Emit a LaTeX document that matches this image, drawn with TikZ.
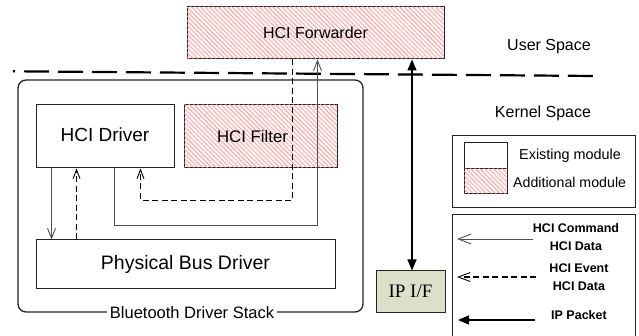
\documentclass[tikz,border=0pt]{standalone}
\usepackage{fontspec}
\setmainfont{Liberation Sans}
\newfontfamily\serifface{Liberation Serif}
\usetikzlibrary{arrows.meta,patterns.meta}
\definecolor{hatchbg}{RGB}{255,242,242}
\definecolor{hatchln}{RGB}{240,150,150}
\definecolor{ipfill}{RGB}{221,224,200}
\definecolor{edge}{RGB}{35,35,35}
\definecolor{thinln}{RGB}{80,80,80}
\tikzset{
  box/.style={draw=edge, line width=1pt, inner sep=0pt},
  addbox/.style={box, fill=hatchbg, postaction={pattern={Lines[angle=-45,distance=3.2pt,line width=0.6pt]}, pattern color=hatchln}},
  fs/.style={font=\fontsize{#1}{#1}\selectfont},
  openarrow/.style={-{Straight Barb[length=10pt,width=8pt,line width=0.9pt]}},
  thinline/.style={draw=thinln, line width=0.9pt, openarrow},
  dashline/.style={draw=black, line width=1.6pt, dash pattern=on 6pt off 3.5pt, -{Straight Barb[length=9pt,width=7pt,line width=0.9pt]}},
  boldline/.style={draw=black, line width=1.3pt, -{Triangle[length=11pt,width=9pt]}},
  legtext/.style={font=\fontsize{12.5}{18}\selectfont\bfseries, align=center, inner sep=0pt},
}
\begin{document}
\begin{tikzpicture}[x=1pt,y=-1pt]
\useasboundingbox (0,0) rectangle (639,336);

% divider between user and kernel space
\coordinate (dl) at (13,71.3);
\coordinate (dr) at (595,76);
\draw[line width=2.2pt, dash pattern=on 25pt off 9pt, dash phase=23pt] (dl) -- (dr);

% Bluetooth driver stack container
\node[draw=edge, line width=1.3pt, rounded corners=8pt, minimum width=345pt, minimum height=232pt, inner sep=0pt] (stack) at (190.5,196) {};
\node[fill=white, fs=16.5, inner sep=3pt] (stacklbl) at ([xshift=1.5pt]stack.south) {Bluetooth Driver Stack};

% modules
\node[addbox, minimum width=257pt, minimum height=52pt, fs=16] (fwd) at (315.5,33) {HCI Forwarder};
\node[box, fill=white, minimum width=138pt, minimum height=63pt, fs=19] (drv) at (105,136.5) {\raisebox{3pt}{HCI Driver}};
\node[addbox, minimum width=153pt, minimum height=63pt, fs=16.8] (flt) at (260.5,136.5) {\hspace*{-16pt}HCI Filter};
\node[box, fill=white, minimum width=299pt, minimum height=49pt, fs=19.5] (pbd) at (185.5,264.5) {Physical Bus Driver};
\node[box, fill=ipfill, minimum width=69pt, minimum height=41pt, font=\serifface\fontsize{19}{19}\selectfont] (ipif) at (410.5,291.5) {IP I/F};

% space labels
\node[fs=16] (user) at (549,47) {User Space};
\node[fs=16] (kernel) at (543,113) {Kernel Space};

% connectors
\draw[thinline] ([xshift=79pt]drv.south west) -- ++(0,57) -| ([xshift=131pt]fwd.south west);
\draw[dashline] ([xshift=106pt]fwd.south west) -- ++(0,141) -| ([xshift=105pt]drv.south west);
\draw[thinline] ([xshift=16pt]drv.south west) -- ([xshift=16pt]drv.south west |- pbd.north);
\draw[dashline] ([xshift=41pt]drv.south west |- pbd.north) -- ([xshift=41pt]drv.south west);
\draw[boldline, {Triangle[length=11pt,width=9pt]}-{Triangle[length=11pt,width=9pt]}] ([xshift=1.5pt]ipif.north |- fwd.south) -- ([xshift=1.5pt]ipif.north);

% legend 1
\node[box, minimum width=183pt, minimum height=72pt] (leg1) at (543.5,172) {};
\node[box, fill=white, minimum width=43pt, minimum height=26pt] (swex) at (485.5,156) {};
\node[addbox, minimum width=43pt, minimum height=25pt] (swadd) at (485.5,181.5) {};
\node[fs=14.4, anchor=west, inner sep=0pt] (exlbl) at (519,156) {Existing module};
\node[fs=14.2, anchor=west, inner sep=0pt] (addlbl) at (513,182) {Additional module};

% legend 2
\coordinate (lg2a) at (452,340);
\coordinate (lg2b) at (635,215);
\draw[draw=edge, line width=1pt] (lg2a) |- (lg2b) -- (lg2b |- lg2a);
\coordinate (a1s) at (533,239);
\coordinate (a1e) at (457,239);
\coordinate (a2s) at (536,277);
\coordinate (a2e) at (457,277);
\coordinate (a3s) at (535,320);
\coordinate (a3e) at (458,320);
\draw[thinline, -{Straight Barb[length=13pt,width=10pt,line width=0.9pt]}] (a1s) -- (a1e);
\draw[dashline, -{Straight Barb[length=12pt,width=9pt,line width=0.9pt]}] (a2s) -- (a2e);
\draw[boldline, line width=1.6pt] (a3s) -- (a3e);
\node[legtext] (t1) at (576,237) {HCI Command\\HCI Data};
\node[legtext] (t2) at (579,277) {HCI Event\\HCI Data};
\node[legtext] (t3) at (579,315) {IP Packet};
\end{tikzpicture}
\end{document}
